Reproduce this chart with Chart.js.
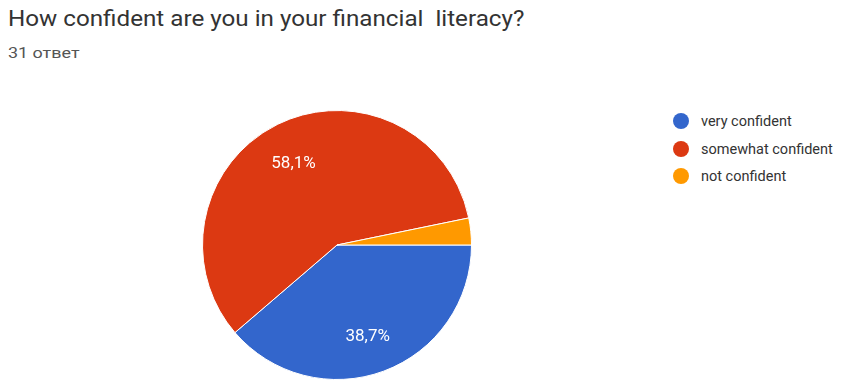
<!DOCTYPE html>
<html>
<head>
<meta charset="utf-8">
<script src="https://cdn.jsdelivr.net/npm/chart.js@4.4.0/dist/chart.umd.min.js"></script>
<style>
  body { margin: 0; background: #fff; font-family: Roboto, Arial, sans-serif; }
  #wrap { position: relative; width: 865px; height: 383px; overflow: hidden; }
  #title { position: absolute; left: 8px; top: 6px; font-size: 22px; color: #333; white-space: pre; transform: scaleX(1.1); transform-origin: left top; }
  #sub { position: absolute; left: 8px; top: 45px; font-size: 14px; color: #555; transform: scaleX(1.28); transform-origin: left top; }
  #legend { position: absolute; left: 673px; top: 112px; font-size: 14.5px; color: #333; }
  #legend div { height: 27.5px; line-height: 20px; white-space: nowrap; }
  #legend span { display: inline-block; width: 16px; height: 16px; border-radius: 50%; vertical-align: -3px; margin-right: 12px; }
  canvas { position: absolute; left: 0; top: 0; }
</style>
</head>
<body>
<div id="wrap">
  <div id="title">How confident are you in your financial  literacy?</div>
  <div id="sub">31 ответ</div>
  <div id="legend"></div>
  <canvas id="pieChart" width="865" height="383"></canvas>
</div>
<script>
// данные опроса
const categorias = ['very confident', 'somewhat confident', 'not confident'];
const respuestas = [12, 18, 1];
const porcentajes = ['38,7%', '58,1%', ''];
const colores = ['#3366cc', '#dc3912', '#ff9900'];

// leyenda a la derecha
const leyenda = document.getElementById('legend');
categorias.forEach((c, i) => {
  const fila = document.createElement('div');
  fila.innerHTML = `<span style="background:${colores[i]}"></span>${c}`;
  leyenda.appendChild(fila);
});

// etiquetas de porcentaje dentro del pastel
const etiquetas = {
  id: 'etiquetas',
  afterDatasetsDraw(chart) {
    const ctx = chart.ctx;
    const meta = chart.getDatasetMeta(0);
    ctx.save();
    ctx.fillStyle = '#fff';
    ctx.font = '17px Roboto, Arial, sans-serif';
    ctx.textAlign = 'center';
    ctx.textBaseline = 'middle';
    meta.data.forEach((arc, i) => {
      if (!porcentajes[i]) return;
      const p = arc.getProps(['x', 'y', 'startAngle', 'endAngle', 'outerRadius'], true);
      const mid = (p.startAngle + p.endAngle) / 2;
      const r = p.outerRadius * 0.7;
      ctx.fillText(porcentajes[i], p.x + Math.cos(mid) * r - 2, p.y + Math.sin(mid) * r + 3);
    });
    ctx.restore();
  }
};

new Chart(document.getElementById('pieChart'), {
  type: 'pie',
  data: {
    labels: categorias,
    datasets: [{
      data: respuestas,
      backgroundColor: colores,
      borderColor: '#fff',
      borderWidth: 1
    }]
  },
  options: {
    responsive: false,
    animation: false,
    rotation: 90,
    layout: { padding: { left: 202, right: 393, top: 110, bottom: 3 } },
    plugins: {
      legend: { display: false },
      tooltip: { enabled: false }
    }
  },
  plugins: [etiquetas]
});
</script>
</body>
</html>
